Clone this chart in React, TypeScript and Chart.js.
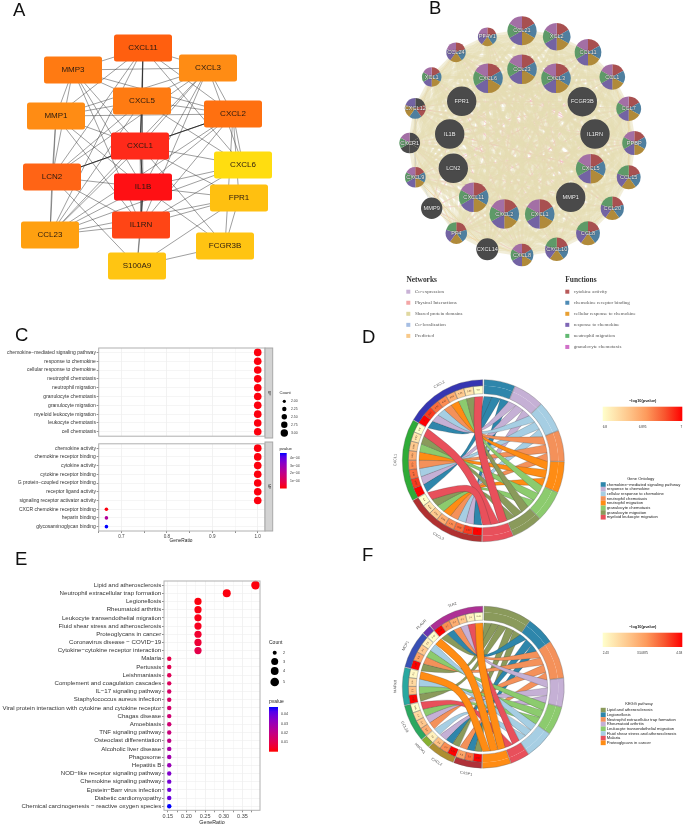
import React, { useEffect, useRef } from "react";
import { Chart, registerables } from "chart.js";
Chart.register(...registerables);

const SANS = '"Liberation Sans", Arial, sans-serif';
const SERIF = '"Liberation Serif", serif';

/* ---------- Panel A ---------- */
const aGenes = ["CXCL11","MMP3","CXCL3","CXCL5","MMP1","CXCL2","CXCL1","CXCL6","LCN2","IL1B","FPR1","IL1RN","CCL23","FCGR3B","S100A9"];
const aX = [143,73,208,142,56,233,140,243,52,143,239,141,50,225,137];
const aY = [48,70,68,101,116,114,146,165,177,187,198,225,235,246,266];
const aFill = ["#FF5F0F","#FF7A12","#FF8C14","#FF7B12","#FF8C14","#FF7010","#FF2A1A","#FFDD10","#FF6415","#FF1014","#FFC010","#FF4515","#FFA010","#FFC412","#FFC512"];
const aEdges = [
  "CXCL11-CXCL3","CXCL11-CXCL2","CXCL11-CXCL1","CXCL11-CXCL6","CXCL11-LCN2","CXCL11-IL1RN","CXCL11-MMP1","CXCL11-CCL23",
  "MMP3-CXCL3","MMP3-CXCL5","MMP3-CXCL2","MMP3-MMP1","MMP3-LCN2","MMP3-CXCL1","MMP3-IL1B","MMP3-IL1RN","MMP3-CXCL11",
  "CXCL3-CXCL5","CXCL3-CXCL2","CXCL3-CXCL1","CXCL3-IL1B","CXCL3-IL1RN","CXCL3-CXCL6","CXCL3-CCL23","CXCL3-LCN2","CXCL3-MMP1",
  "CXCL5-MMP1","CXCL5-CXCL2","CXCL5-IL1B","CXCL5-IL1RN","CXCL5-LCN2","CXCL5-CCL23","CXCL5-CXCL6",
  "MMP1-CXCL2","MMP1-CXCL1","MMP1-LCN2","MMP1-IL1B","MMP1-IL1RN","MMP1-CCL23",
  "CXCL2-CXCL6","CXCL2-IL1B","CXCL2-IL1RN","CXCL2-LCN2","CXCL2-CCL23","CXCL2-FCGR3B","CXCL2-FPR1",
  "CXCL1-IL1RN","CXCL1-CCL23","CXCL1-CXCL6","CXCL1-FPR1","CXCL1-FCGR3B",
  "CXCL6-IL1B","CXCL6-IL1RN","CXCL6-CCL23",
  "LCN2-IL1B","LCN2-IL1RN","LCN2-S100A9","LCN2-CCL23",
  "IL1B-FPR1","IL1B-FCGR3B","IL1B-CCL23","IL1B-S100A9",
  "FPR1-IL1RN","FPR1-FCGR3B","FPR1-S100A9","FPR1-CCL23",
  "IL1RN-CCL23","IL1RN-S100A9","FCGR3B-S100A9",
];
const aThickEdges = ["CXCL11-CXCL5","CXCL5-CXCL1","CXCL1-IL1B","IL1B-IL1RN","CXCL1-CXCL2","CXCL1-LCN2"];

/* ---------- Panel B ---------- */
const bNames = ["CCL21","XCL2","CCL11","CCL1","CCL7","PPBP","CCL15","CCL20","CCL8","CXCL10","CXCL8","CXCL14","PF4","MMP9","CXCL9","CXCR1","CXCL12","XCL1","CCL24","PF4V1","CCL23","CXCL3","FCGR3B","IL1RN","CXCL5","MMP1","CXCL1","CXCL2","CXCL11","LCN2","IL1B","FPR1","CXCL6"];
const bX = [522,556.7,588,612.3,628.7,634.3,628.7,612.3,588,556.7,522,487.3,456.3,431.7,415.3,409.7,415.3,431.7,456,487.3,522,556,582.3,595,590.7,570.7,539.7,504.3,473.7,453.3,449.7,461.7,488];
const bY = [30.7,36.7,52.3,77,108.7,143,177.3,208.3,233.3,249.3,255,249.3,233,208.3,177.3,143,108.3,77,52.3,36.7,69.3,78.3,101.7,134,168.7,197.3,214,214,197.3,168.3,134,101.3,78.3];
const bR = [14.5,13.7,13.3,12.7,12.3,12,12,11.7,12,11.7,11.3,11,10.7,10.7,10.3,10.3,10.3,9.7,9.7,9.3,14.7,14.7,14.7,14.7,14.7,14.7,14.7,14.7,14.7,14.7,14.7,14.7,14.7];
const bSlices = ["rbcpnm","rbcpnm","rbcpnm","rbcpnm","rbcpnm","rbcpnm","rbcpn","rbcpn","rbcpn","rbcpn","rbcpnm","d","rbcpn","d","rbcpnm","ddddnm","drbcp","rbcpnm","rbcpm","rbcpm","rbcpnm","rbcpnm","d","d","rbcpnm","d","rbcpnm","rbcpnm","rbcpnm","d","d","d","rbcpnm"];
const sliceColor = { r:"#A85050", b:"#4F7F9F", c:"#B08A3A", p:"#7363A3", n:"#5E9A68", m:"#A36FA5", d:"#4A4A4A" };
const bNotShared = ["FCGR3B","IL1RN","MMP1","LCN2","IL1B","FPR1","MMP9"];
const bPhysical = ["CCL21-CXCL8","CCL21-CXCL2","XCL2-CXCL9","XCL2-CXCL1","CCL11-CXCL11","CCL11-IL1B","CCL1-CXCL12","CCL1-PF4","CCL7-CXCR1","CCL7-CXCL5","PPBP-CXCL9","PPBP-LCN2","PPBP-CXCR1","CCL15-IL1B","CCL15-PF4","CCL20-CCL24","CCL20-FPR1","CCL8-XCL1","CCL8-CXCL12","CXCL10-CCL21","CXCL10-PF4V1","CXCL10-IL1RN","CXCL8-FPR1","CXCL8-CXCR1","CXCL8-MMP9","CXCL8-IL1B","CXCL14-CCL1","CXCL14-CXCL3","PF4-CXCL5","PF4-IL1RN","PF4-CCL11","MMP9-MMP1","MMP9-IL1B","MMP9-LCN2","MMP9-CCL7","CXCL9-CCL20","CXCL9-CXCL1","CXCR1-CXCL1","CXCR1-CXCL2","CXCR1-CXCL5","CXCR1-CXCL3","CXCL12-CCL15","CXCL12-PPBP","XCL1-CCL20","XCL1-CXCL10","CCL24-CCL8","CCL24-CXCL5","PF4V1-CCL8","PF4V1-CXCL8","CCL23-CXCL14","CCL23-MMP1","CXCL3-LCN2","CXCL3-FPR1","FCGR3B-CXCL9","FCGR3B-CXCL2","FCGR3B-IL1B","IL1RN-IL1B","IL1RN-CXCL12","IL1RN-CCL24","CXCL5-IL1B","MMP1-IL1B","MMP1-FPR1","MMP1-CCL21","CXCL1-LCN2","CXCL1-FPR1","CXCL2-IL1RN","CXCL2-MMP1","CXCL11-FCGR3B","CXCL11-PPBP","LCN2-CCL1","LCN2-MMP1","FPR1-FCGR3B","FPR1-CCL7","CXCL6-MMP1","CXCL6-CCL20","CXCL6-IL1RN"];
const bPredicted = ["CXCL9-CXCL14","CXCR1-PF4","CXCL12-CXCL9","XCL1-CXCR1","CCL24-CXCL12","CCL7-CCL15","CCL1-PPBP","CCL20-CXCL10","PF4-CXCL8","MMP9-CXCL14"];
const bColoc = ["CXCR1-XCL1","CXCR1-MMP9","CXCL12-CXCL9","PPBP-CCL20","CXCL9-PF4"];
const netNames = ["Co-expression","Physical Interactions","Shared protein domains","Co-localization","Predicted"];
const netColors = ["#C9B2D6","#F3A6A6","#E0D8A0","#A6BEE3","#F8C98A"];
const funcNames = ["cytokine activity","chemokine receptor binding","cellular response to chemokine","response to chemokine","neutrophil migration","granulocyte chemotaxis"];
const funcColors = ["#B85A5A","#4E8BB5","#E8A033","#7E66B5","#62B872","#D070C8"];

/* ---------- Panel C ---------- */
const cBP = ["chemokine\u2212mediated signaling pathway","response to chemokine","cellular response to chemokine","neutrophil chemotaxis","neutrophil migration","granulocyte chemotaxis","granulocyte migration","myeloid leukocyte migration","leukocyte chemotaxis","cell chemotaxis"];
const cBPRatio = [1,1,1,1,1,1,1,1,1,1];
const cBPCount = [3,3,3,3,3,3,3,3,3,3];
const cBPp = [0.00001,0.00001,0.00001,0.00001,0.00001,0.00001,0.00001,0.00001,0.00001,0.00001];
const cMF = ["chemokine activity","chemokine receptor binding","cytokine activity","cytokine receptor binding","G protein\u2212coupled receptor binding","receptor ligand activity","signaling receptor activator activity","CXCR chemokine receptor binding","heparin binding","glycosaminoglycan binding"];
const cMFRatio = [1,1,1,1,1,1,1,0.667,0.667,0.667];
const cMFCount = [3,3,3,3,3,3,3,2,2,2];
const cMFp = [0.00001,0.00001,0.00001,0.00001,0.00001,0.00001,0.00001,0.00001,0.00025,0.00048];
const cGrid = [0.65,0.7,0.75,0.8,0.85,0.9,0.95,1];
const cTickLabels = [0.7,0.8,0.9,1];

/* ---------- Panel E ---------- */
const eTerms = ["Lipid and atherosclerosis","Neutrophil extracellular trap formation","Legionellosis","Rheumatoid arthritis","Leukocyte transendothelial migration","Fluid shear stress and atherosclerosis","Proteoglycans in cancer","Coronavirus disease \u2212 COVID\u221219","Cytokine\u2212cytokine receptor interaction","Malaria","Pertussis","Leishmaniasis","Complement and coagulation cascades","IL\u221217 signaling pathway","Staphylococcus aureus infection","Viral protein interaction with cytokine and cytokine receptor","Chagas disease","Amoebiasis","TNF signaling pathway","Osteoclast differentiation","Alcoholic liver disease","Phagosome","Hepatitis B","NOD\u2212like receptor signaling pathway","Chemokine signaling pathway","Epstein\u2212Barr virus infection","Diabetic cardiomyopathy","Chemical carcinogenesis \u2212 reactive oxygen species"];
const eCount = [5,4,3,3,3,3,3,3,3,2,2,2,2,2,2,2,2,2,2,2,2,2,2,2,2,2,2,2];
const eRatio = [0.385,0.308,0.231,0.231,0.231,0.231,0.231,0.231,0.231,0.154,0.154,0.154,0.154,0.154,0.154,0.154,0.154,0.154,0.154,0.154,0.154,0.154,0.154,0.154,0.154,0.154,0.154,0.154];
const ePvalue = [0.0008,0.001,0.001,0.0015,0.002,0.003,0.005,0.006,0.009,0.009,0.01,0.011,0.012,0.014,0.014,0.015,0.016,0.016,0.018,0.02,0.026,0.028,0.03,0.035,0.037,0.038,0.039,0.047];
const eTicks = [0.15,0.2,0.25,0.3,0.35];

/* ---------- Panels D, F ---------- */
const olive="#8A9A5B", blue="#2E86AB", salmon="#F4915A", mauve="#C5B0D5", lgreen="#8CCB6E", lblue="#A6CEE3", red="#E8505B", orange="#FF8C14";
const dTerms = ["chemokine\u2212mediated signaling pathway","response to chemokine","cellular response to chemokine","neutrophil chemotaxis","neutrophil migration","granulocyte chemotaxis","granulocyte migration","myeloid leukocyte migration"];
const dTermColors = [blue,mauve,lblue,salmon,orange,lgreen,olive,red];
const dGenes = ["CXCL3","CXCL1","CXCL2"];
const dGeneColors = ["#B03030","#2FAB37","#3636B2"];
const dCells = [[7,6.97,6.94,6.92,6.89,6.86,6.83,6.8],[7,6.97,6.94,6.92,6.89,6.86,6.83,6.8],[7,6.97,6.94,6.92,6.89,6.86,6.83,6.8]];
const dLinks = [[0,1,2,3,4,5,6,7],[0,1,2,3,4,5,6,7],[0,1,2,3,4,5,6,7]];
const fTerms = ["Lipid and atherosclerosis","Legionellosis","Neutrophil extracellular trap formation","Rheumatoid arthritis","Leukocyte transendothelial migration","Fluid shear stress and atherosclerosis","Malaria","Proteoglycans in cancer"];
const fTermColors = [olive,blue,salmon,mauve,lgreen,lblue,red,orange];
const fGenes = ["CASP1","CXCL2","HMOX1","CCL20","MAPK8","MCP1","PLAUR","TLR2"];
const fGeneColors = ["#B03038","#AE8E30","#86B030","#2BA860","#28A8A0","#3850B5","#6A35B0","#AE3095"];
const fCells = [[4.58,3.9,3.5],[4.58,3.7,3.2],[2.6],[3.4,3.1,2.9,2.45],[4.58,3.2,2.9,2.5],[4.58,3.5,3.1,2.6],[2.43],[4.58,3.7,3.4,3.1,2.6,2.43]];
const fLinks = [[0,1,2],[0,1,3],[5],[2,3,4,6],[0,4,5,7],[0,2,4,5],[7],[0,1,2,3,6,7]];

/* ---------- helpers ---------- */
type Ctx = CanvasRenderingContext2D;
function txt(ctx: Ctx, s: string, x: number, y: number, size: number, o: any = {}) {
  ctx.save();
  ctx.translate(x, y);
  if (o.rot) ctx.rotate((o.rot * Math.PI) / 180);
  ctx.font = `${o.bold ? "bold " : ""}${size}px ${o.family || SANS}`;
  ctx.fillStyle = o.color || "#222";
  ctx.textAlign = o.align || "left";
  ctx.textBaseline = "middle";
  if (o.halo) { ctx.strokeStyle = o.halo; ctx.lineWidth = 0.7; ctx.strokeText(s, 0, 0); }
  ctx.fillText(s, 0, 0);
  ctx.restore();
}
function overlay(left: number, top: number, draw: (ctx: Ctx, chart: any) => void) {
  return {
    id: "ov",
    afterDraw(chart: any) {
      const ctx = chart.ctx;
      ctx.save();
      ctx.translate(-left, -top);
      draw(ctx, chart);
      ctx.restore();
    },
  };
}
function pvalColor(t: number) {
  const r = Math.round(255 * Math.pow(1 - t, 0.5));
  const b = Math.round(255 * Math.pow(t, 0.75));
  return `rgb(${r},0,${b})`;
}
function pvalBar(ctx: Ctx, x: number, y0: number, w: number, y1: number) {
  const g = ctx.createLinearGradient(0, y0, 0, y1);
  for (let i = 0; i <= 10; i++) g.addColorStop(i / 10, pvalColor(1 - i / 10));
  ctx.fillStyle = g;
  ctx.fillRect(x, y0, w, y1 - y0);
}
const heatStops: [number, string][] = [[0,"#FFFFCC"],[0.33,"#FEC58A"],[0.55,"#FD9A5C"],[0.78,"#F8552E"],[1,"#FF0000"]];
function heatColor(t: number) {
  for (let i = 1; i < heatStops.length; i++) {
    if (t <= heatStops[i][0]) {
      const [a, ca] = heatStops[i - 1], [b, cb] = heatStops[i];
      const f = (t - a) / (b - a);
      const p = (c: string, k: number) => parseInt(c.slice(k, k + 2), 16);
      const m = (k: number) => Math.round(p(ca, k) + (p(cb, k) - p(ca, k)) * f);
      return `rgb(${m(1)},${m(3)},${m(5)})`;
    }
  }
  return "#FF0000";
}
const baseOpts = (extra: any) => ({
  responsive: false,
  animation: false,
  events: [],
  plugins: { legend: { display: false }, tooltip: { enabled: false } },
  ...extra,
});

/* ---------- network configs ---------- */
function edgeSet(pairs: string[], names: string[], xs: number[], ys: number[], color: string, width: number) {
  return pairs.map((p) => {
    const [a, b] = p.split("-");
    const i = names.indexOf(a), j = names.indexOf(b);
    return { data: [{ x: xs[i], y: ys[i] }, { x: xs[j], y: ys[j] }], showLine: true, borderColor: color, borderWidth: width, pointRadius: 0, fill: false };
  });
}
const pixelScales = (l: number, t: number, w: number, h: number) => ({
  x: { type: "linear", min: l, max: l + w, display: false },
  y: { type: "linear", min: t, max: t + h, reverse: true, display: false },
});

function configA() {
  const L = 0, T = 0, W = 300, H = 300;
  return {
    type: "scatter",
    data: {
      datasets: [
        ...edgeSet(aEdges, aGenes, aX, aY, "#3f3f3f", 0.5),
        ...edgeSet(aThickEdges, aGenes, aX, aY, "#222", 1),
        { data: aX.map((x, i) => ({ x, y: aY[i] })), pointRadius: 0 },
      ],
    },
    options: baseOpts({ layout: { padding: 0, autoPadding: false }, scales: pixelScales(L, T, W, H) }),
    plugins: [overlay(L, T, (ctx, chart) => {
      const meta = chart.getDatasetMeta(chart.data.datasets.length - 1);
      aGenes.forEach((g, i) => {
        const x = meta.data[i].x + L, y = meta.data[i].y + T;
        ctx.beginPath();
        ctx.roundRect(x - 29, y - 13.5, 58, 27, 2.5);
        ctx.fillStyle = aFill[i];
        ctx.fill();
        txt(ctx, g, x, y, 8, { align: "center", color: "#2a1a10" });
      });
    })],
  };
}

function configB() {
  const L = 370, T = 0, W = 315, H = 360;
  const shared = bNames.filter((n) => !bNotShared.includes(n));
  const sharedPairs: string[] = [];
  shared.forEach((a, i) => shared.slice(i + 1).forEach((b) => sharedPairs.push(a + "-" + b)));
  return {
    type: "scatter",
    data: {
      datasets: [
        ...edgeSet(sharedPairs, bNames, bX, bY, "rgba(230,222,180,0.5)", 3.2),
        ...edgeSet(bColoc, bNames, bX, bY, "rgba(170,190,230,0.6)", 0.6),
        ...edgeSet(bPredicted, bNames, bX, bY, "rgba(248,200,140,0.7)", 1),
        ...edgeSet(bPhysical, bNames, bX, bY, "rgba(245,175,190,0.65)", 1.1),
        { data: bX.map((x, i) => ({ x, y: bY[i] })), pointRadius: bR, backgroundColor: "transparent", borderColor: "transparent" },
      ],
    },
    options: baseOpts({ layout: { padding: 0, autoPadding: false }, scales: pixelScales(L, T, W, H) }),
    plugins: [overlay(L, T, (ctx, chart) => {
      const meta = chart.getDatasetMeta(chart.data.datasets.length - 1);
      bNames.forEach((n, i) => {
        const x = meta.data[i].x + L, y = meta.data[i].y + T, r = bR[i];
        const sl = bSlices[i];
        sl.split("").forEach((c, k) => {
          const a0 = -Math.PI / 2 + (k * 2 * Math.PI) / sl.length;
          const a1 = -Math.PI / 2 + ((k + 1) * 2 * Math.PI) / sl.length;
          ctx.beginPath();
          ctx.moveTo(x, y);
          ctx.arc(x, y, r, a0, a1);
          ctx.closePath();
          ctx.fillStyle = (sliceColor as any)[c];
          ctx.fill();
        });
        txt(ctx, n, x, y, 5.6, { align: "center", color: "#F0F0F0", halo: "rgba(50,50,50,0.55)" });
      });
      txt(ctx, "Networks", 406.5, 280.5, 7.4, { bold: true, family: SERIF, color: "#333" });
      netNames.forEach((n, i) => {
        const y = 291.7 + i * 11.05;
        ctx.fillStyle = netColors[i];
        ctx.fillRect(406.3, y - 2, 4, 4);
        txt(ctx, n, 415, y, 5, { family: SERIF, color: "#555" });
      });
      txt(ctx, "Functions", 565.3, 280.5, 7.4, { bold: true, family: SERIF, color: "#333" });
      funcNames.forEach((n, i) => {
        const y = 291.7 + i * 11.05;
        ctx.fillStyle = funcColors[i];
        ctx.fillRect(565.3, y - 2, 4, 4);
        txt(ctx, n, 573.7, y, 5, { family: SERIF, color: "#555" });
      });
    })],
  };
}

/* ---------- dot plot config ---------- */
function dotConfig(p: any) {
  return {
    type: "bubble",
    data: {
      datasets: [{
        data: p.labels.map((l: string, i: number) => ({ x: p.ratio[i], y: l, r: p.radius(p.count[i]) })),
        backgroundColor: p.labels.map((_: string, i: number) => pvalColor(Math.min(1, p.pvalue[i] / p.pmax))),
        borderWidth: 0,
        clip: false,
      }],
    },
    options: baseOpts({
      layout: { padding: { left: 0, right: p.padRight, top: p.padTop, bottom: 0 }, autoPadding: false },
      scales: {
        x: {
          type: "linear", min: p.xmin, max: p.xmax,
          afterFit: (s: any) => { s.height = p.axisH; },
          afterBuildTicks: (s: any) => { s.ticks = p.grid.map((v: number) => ({ value: v })); },
          grid: { color: (c: any) => (p.major.includes(c.tick?.value) ? "#E9E9E9" : "#F3F3F3"), lineWidth: 0.6, tickLength: p.showX ? 2 : 0, tickColor: "#444", drawTicks: p.showX },
          border: { display: false },
          ticks: {
            display: p.showX, autoSkip: false, maxRotation: 0, padding: 0.5,
            font: { size: p.tickSize, family: SANS }, color: "#444",
            callback: (v: number) => (p.major.includes(v) ? v.toFixed(p.decimals) : ""),
          },
        },
        y: {
          type: "category", labels: p.labels, offset: true,
          afterFit: (s: any) => { s.width = p.axisW; },
          grid: { offset: false, color: "#EFEFEF", lineWidth: 0.6, tickLength: 2, tickColor: "#444" },
          border: { display: false },
          ticks: { autoSkip: false, padding: 0.8, font: { size: p.labelSize, family: SANS }, color: "#333" },
        },
      },
    }),
    plugins: [overlay(p.left, p.top, (ctx, chart) => {
      const a = chart.chartArea;
      ctx.strokeStyle = "#B0B0B0";
      ctx.lineWidth = 1;
      ctx.strokeRect(a.left + p.left, a.top + p.top, a.right - a.left, a.bottom - a.top);
      p.extra(ctx, a);
    })],
  };
}
function strip(ctx: Ctx, y0: number, y1: number, label: string) {
  ctx.fillStyle = "#D3D3D3";
  ctx.fillRect(265, y0, 7.7, y1 - y0);
  ctx.strokeStyle = "#A8A8A8";
  ctx.lineWidth = 1;
  ctx.strokeRect(265, y0, 7.7, y1 - y0);
  txt(ctx, label, 269, (y0 + y1) / 2, 3.5, { rot: 90, align: "center", color: "#333" });
}
const cRadius = (c: number) => (c >= 3 ? 3.8 : 1.8);
const eRadius = (c: number) => [0, 0, 2.2, 3.6, 4, 4.3][c];

function configC1() {
  return dotConfig({
    left: 0, top: 340, labels: cBP, ratio: cBPRatio, count: cBPCount, pvalue: cBPp, pmax: 0.00048, radius: cRadius,
    padRight: 75, padTop: 8, xmin: 0.65, xmax: 1.016, axisH: 0, axisW: 98.7, grid: cGrid, major: cTickLabels, showX: false,
    tickSize: 4, labelSize: 5, decimals: 1,
    extra: (ctx: Ctx) => {
      strip(ctx, 348, 438, "BP");
      txt(ctx, "Count", 279.5, 393, 4.2);
      const ys = [401.3, 409, 416.7, 424.7, 433], rs = [1.6, 2.2, 2.7, 3.2, 3.7], ls = ["2.00","2.25","2.50","2.75","3.00"];
      ys.forEach((y, i) => {
        ctx.beginPath(); ctx.arc(284.3, y, rs[i], 0, 7); ctx.fillStyle = "#000"; ctx.fill();
        txt(ctx, ls[i], 291, y, 3.4, { color: "#333" });
      });
    },
  });
}
function configC2() {
  return dotConfig({
    left: 0, top: 440, labels: cMF, ratio: cMFRatio, count: cMFCount, pvalue: cMFp, pmax: 0.00048, radius: cRadius,
    padRight: 75, padTop: 2, xmin: 0.65, xmax: 1.016, axisH: 19, axisW: 98.7, grid: cGrid, major: cTickLabels, showX: true,
    tickSize: 4.6, labelSize: 5, decimals: 1,
    extra: (ctx: Ctx) => {
      strip(ctx, 442, 531, "MF");
      txt(ctx, "GeneRatio", 181, 540.5, 4.8, { align: "center" });
      txt(ctx, "pvalue", 279.5, 449, 4.2);
      pvalBar(ctx, 280, 453, 6.7, 488.5);
      [["4e\u221204",457.7],["3e\u221204",465.7],["2e\u221204",473],["1e\u221204",481]].forEach(([l, y]: any) => txt(ctx, l, 290, y, 3.4, { color: "#333" }));
    },
  });
}
function configE() {
  return dotConfig({
    left: 0, top: 570, labels: eTerms, ratio: eRatio, count: eCount, pvalue: ePvalue, pmax: 0.047, radius: eRadius,
    padRight: 80, padTop: 11, xmin: 0.14, xmax: 0.397, axisH: 14.7, axisW: 164, grid: [0.15,0.175,0.2,0.225,0.25,0.275,0.3,0.325,0.35,0.375], major: eTicks, showX: true,
    tickSize: 5.5, labelSize: 6.1, decimals: 2,
    extra: (ctx: Ctx) => {
      txt(ctx, "GeneRatio", 212, 822.3, 5.3, { align: "center" });
      txt(ctx, "Count", 269, 642.7, 5);
      const ys = [652.7, 661.5, 671, 682], rs = [2, 3.5, 3.9, 4.3], ls = ["2","3","4","5"];
      ys.forEach((y, i) => {
        ctx.beginPath(); ctx.arc(274.7, y, rs[i], 0, 7); ctx.fillStyle = "#000"; ctx.fill();
        txt(ctx, ls[i], 283, y, 3.8, { color: "#333" });
      });
      txt(ctx, "pvalue", 269, 702, 5);
      pvalBar(ctx, 269, 707, 9, 751.7);
      [["0.04",714],["0.03",723.6],["0.02",733],["0.01",742]].forEach(([l, y]: any) => txt(ctx, l, 281, y, 3.6, { color: "#333" }));
    },
  });
}

/* ---------- chord config ---------- */
function chordConfig(p: any) {
  const { terms, termColors, genes, geneColors, cells, links, left, top, width, height, cx, cy } = p;
  const N = links.reduce((s: number, l: number[]) => s + l.length, 0);
  const counts = terms.map(() => 0);
  links.forEach((l: number[]) => l.forEach((t) => counts[t]++));
  const tGap = 0.3, gGap = 0.5;
  const uR = (180 - tGap * (terms.length - 1)) / N;
  const uL = (178.4 - gGap * (genes.length - 1)) / N;
  const termStart: number[] = [];
  let a = 0.6;
  counts.forEach((c: number, t: number) => { termStart[t] = a; a += c * uR + tGap; });
  const geneStart: number[] = [];
  a = 181.2;
  links.forEach((l: number[], g: number) => { geneStart[g] = a; a += l.length * uL + gGap; });

  const outer: number[] = [0.6], outerC: string[] = ["transparent"], inner: number[] = [0.6], innerC: string[] = ["transparent"];
  counts.forEach((c: number, t: number) => {
    outer.push(c * uR); outerC.push(termColors[t]); inner.push(c * uR); innerC.push(termColors[t]);
    const gp = t === terms.length - 1 ? 0.6 : tGap;
    outer.push(gp); outerC.push("transparent"); inner.push(gp); innerC.push("transparent");
  });
  links.forEach((l: number[], g: number) => {
    outer.push(l.length * uL); outerC.push(geneColors[g]);
    const lo = Math.min(...p.allCells), hi = Math.max(...p.allCells);
    cells[g].forEach((v: number) => { inner.push(uL); innerC.push(heatColor((v - lo) / (hi - lo))); });
    const gp = g === genes.length - 1 ? 0.4 : gGap;
    outer.push(gp); outerC.push("transparent"); inner.push(gp); innerC.push("transparent");
  });

  const R = 81, Rmid = 75, Rcut = 67, Rib = 64.3;
  const rad = (d: number) => ((d - 90) * Math.PI) / 180;
  return {
    type: "doughnut",
    data: {
      labels: outer.map((_, i) => String(i)),
      datasets: [
        { data: outer, backgroundColor: outerC, borderWidth: 0, weight: R - Rmid },
        { data: inner, backgroundColor: innerC, borderWidth: 0, weight: Rmid - Rcut },
      ],
    },
    options: baseOpts({
      radius: R, cutout: `${(Rcut / R) * 100}%`,
      layout: { padding: { left: 0, right: width - 2 * (cx - left), top: 0, bottom: height - 2 * (cy - top) }, autoPadding: false },
    }),
    plugins: [overlay(left, top, (ctx, chart) => {
      const el = chart.getDatasetMeta(0).data[0];
      const X = el.x + left, Y = el.y + top;
      const pt = (d: number, r: number) => [X + r * Math.cos(rad(d)), Y + r * Math.sin(rad(d))];
      const ptr = counts.map(() => 0);
      const ribbons: any[] = [];
      for (let g = genes.length - 1; g >= 0; g--) {
        links[g].forEach((t: number, k: number) => {
          const a1 = geneStart[g] + k * uL, a2 = a1 + uL;
          const b1 = termStart[t] + ptr[t] * uR, b2 = b1 + uR;
          ptr[t]++;
          const mid = geneStart[g] + (links[g].length * uL) / 2;
          ribbons.push({ t, a1, a2, b1, b2, mid });
        });
      }
      ribbons.sort((u, v) => u.t - v.t);
      ribbons.forEach((r) => {
        const hub = pt(r.mid, 26);
        hub[0] += 6;
        const am = pt((r.a1 + r.a2) / 2, Rib), bm = pt((r.b1 + r.b2) / 2, Rib);
        let dx = bm[0] - am[0], dy = bm[1] - am[1];
        const len = Math.hypot(dx, dy) || 1;
        dx /= len; dy /= len;
        const w = (p.wide[r.t] ?? 0.8) / 2;
        const c1 = [hub[0] + dy * w, hub[1] - dx * w], c2 = [hub[0] - dy * w, hub[1] + dx * w];
        const e = pt(r.b1, Rib), s = pt(r.a1, Rib);
        ctx.beginPath();
        ctx.arc(X, Y, Rib, rad(r.a1), rad(r.a2));
        ctx.bezierCurveTo(c1[0], c1[1], c1[0], c1[1], e[0], e[1]);
        ctx.arc(X, Y, Rib, rad(r.b1), rad(r.b2));
        ctx.bezierCurveTo(c2[0], c2[1], c2[0], c2[1], s[0], s[1]);
        ctx.closePath();
        ctx.fillStyle = termColors[r.t];
        ctx.fill();
        ctx.strokeStyle = "rgba(40,40,40,0.6)";
        ctx.lineWidth = 0.35;
        ctx.stroke();
      });
      const sector = (a0: number, a1: number, r0: number, r1: number) => {
        ctx.beginPath();
        ctx.arc(X, Y, r1, rad(a0), rad(a1));
        ctx.arc(X, Y, r0, rad(a1), rad(a0), true);
        ctx.closePath();
        ctx.strokeStyle = "rgba(90,90,90,0.8)";
        ctx.lineWidth = 0.4;
        ctx.stroke();
      };
      counts.forEach((c: number, t: number) => sector(termStart[t], termStart[t] + c * uR, Rcut, R));
      genes.forEach((name: string, g: number) => {
        const st = geneStart[g], span = links[g].length * uL;
        sector(st, st + span, Rmid, R);
        cells[g].forEach((v: number, k: number) => {
          sector(st + k * uL, st + (k + 1) * uL, Rcut, Rmid);
          const d = st + (k + 0.5) * uL;
          const q = pt(d, (Rcut + Rmid) / 2);
          const rot = d >= 270 ? d - 360 : d - 180;
          txt(ctx, String(v), q[0], q[1], 2.2, { rot, align: "center", color: "#553322" });
        });
        const d = st + span / 2;
        const q = pt(d, 88);
        txt(ctx, name, q[0], q[1], 3.8, { rot: d >= 270 ? d - 360 : d - 180, align: "center", color: "#555" });
      });
      txt(ctx, "\u2212log10(pvalue)", p.titleX, p.barY - 6, 3.9, { align: "center", bold: true, color: "#222" });
      const grad = ctx.createLinearGradient(602.7, 0, 682.3, 0);
      heatStops.forEach(([s, c]) => grad.addColorStop(s, c));
      ctx.fillStyle = grad;
      ctx.fillRect(602.7, p.barY, 79.6, 14.3);
      p.barTicks.forEach((l: string, i: number) => {
        txt(ctx, l, 602.7 + i * 39.8, p.barY + 20, 3.1, { align: i === 2 ? "right" : i === 0 ? "left" : "center", color: "#333" });
      });
      txt(ctx, p.legendTitle, p.legendX, p.legendY, 4, { align: "center", color: "#222" });
      terms.forEach((n: string, i: number) => {
        const y = p.legendY + 5.8 + i * 4.67;
        ctx.fillStyle = termColors[i];
        ctx.fillRect(600.7, y - 2.3, 5, 4.67);
        txt(ctx, n, 606.7, y, 4.15, { color: "#222" });
      });
    })],
  };
}
const configD = () => chordConfig({
  terms: dTerms, termColors: dTermColors, genes: dGenes, geneColors: dGeneColors, cells: dCells, links: dLinks,
  allCells: dCells.flat(), wide: { 7: 7 }, left: 370, top: 360, width: 315, height: 210, cx: 483.3, cy: 460.7,
  titleX: 642.7, barY: 406.7, barTicks: ["6.8","6.895","7"], legendTitle: "Gene Ontology", legendX: 640.7, legendY: 478.7,
});
const configF = () => chordConfig({
  terms: fTerms, termColors: fTermColors, genes: fGenes, geneColors: fGeneColors, cells: fCells, links: fLinks,
  allCells: fCells.flat(), wide: { 7: 7, 6: 3 }, left: 370, top: 590, width: 315, height: 197, cx: 483.3, cy: 687.2,
  titleX: 642.7, barY: 632.7, barTicks: ["2.43","3.50875","4.58"], legendTitle: "KEGG pathway", legendX: 639, legendY: 704.3,
});

/* ---------- React ---------- */
function Panel({ left, top, width, height, make }: any) {
  const ref = useRef<HTMLCanvasElement>(null);
  useEffect(() => {
    const chart = new Chart(ref.current as any, make());
    return () => chart.destroy();
  }, []);
  return <canvas ref={ref} width={width} height={height} style={{ position: "absolute", left, top, width, height, display: "block" }} />;
}
const letters: [string, number, number][] = [["A",13,1],["B",429,-1.5],["C",15,326],["D",362,327.7],["E",15,549.6],["F",362,546]];

export default function App() {
  return (
    <div style={{ position: "absolute", left: 0, top: 0, width: 685, height: 825, overflow: "hidden", background: "#fff" }}>
      <Panel left={0} top={0} width={300} height={300} make={configA} />
      <Panel left={370} top={0} width={315} height={360} make={configB} />
      <Panel left={0} top={340} width={340} height={100} make={configC1} />
      <Panel left={0} top={440} width={340} height={110} make={configC2} />
      <Panel left={370} top={360} width={315} height={210} make={configD} />
      <Panel left={0} top={570} width={340} height={255} make={configE} />
      <Panel left={370} top={590} width={315} height={197} make={configF} />
      {letters.map(([s, x, y]) => (
        <div key={s} style={{ position: "absolute", left: x, top: y, font: `18.5px/18.5px ${SANS}`, color: "#111" }}>{s}</div>
      ))}
    </div>
  );
}
